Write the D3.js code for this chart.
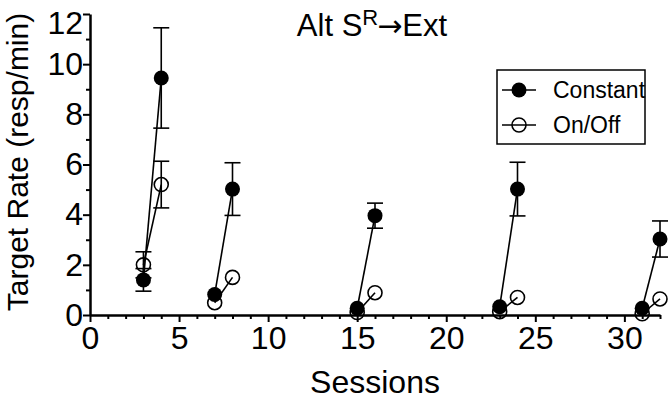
<!DOCTYPE html>
<html><head><meta charset="utf-8">
<script src="https://cdn.jsdelivr.net/npm/d3@7"></script>
<style>body{margin:0;background:#fff} text{font-family:Arial,"Liberation Sans",sans-serif;fill:#000}</style>
</head><body><svg id="c" width="669" height="401"></svg>
<script>
const sessions = [3,4,7,8,15,16,23,24,31,32];
const constantMean = [1.4,9.45,0.82,5.02,0.27,3.96,0.33,5.02,0.27,3.03];
const constantErr  = [0.45,2.0,0,1.05,0,0.5,0,1.07,0,0.72];
const onOffMean = [2.0,5.2,0.49,1.5,0.1,0.89,0.13,0.7,0.05,0.64];
const onOffErr  = [0.52,0.93,0,0,0,0,0,0,0,0];
const xTicks = d3.range(0,33);
const yTicks = d3.range(0,13);
const seriesNames = ["Constant","On/Off"];

const svg = d3.select("#c");
const x = d3.scaleLinear().domain([0,32]).range([90,660]);
const y = d3.scaleLinear().domain([0,12]).range([315,14]);

// axes
const xa = svg.append("g").attr("transform","translate(0,315)")
  .call(d3.axisBottom(x).tickValues(xTicks).tickSizeOuter(0)
    .tickFormat(d => d%5===0 ? d : ""));
xa.select(".domain").attr("stroke-width",2.5);
xa.selectAll(".tick line").attr("stroke-width",2).attr("y2", d => d%5===0 ? 7 : 4);
xa.selectAll(".tick text").attr("font-size",32).attr("dy","0.71em").attr("y",11);

const ya = svg.append("g").attr("transform","translate(90,0)")
  .call(d3.axisLeft(y).tickValues(yTicks).tickSizeOuter(0)
    .tickFormat(d => d%2===0 ? d : ""));
ya.select(".domain").attr("stroke-width",2.5);
ya.selectAll(".tick line").attr("stroke-width",2).attr("x2", d => d%2===0 ? -7 : -4);
ya.selectAll(".tick text").attr("font-size",32).attr("x",-7)
  .attr("dy", d => d===12 ? "0.62em" : "0.32em");
svg.selectAll(".tick text").style("font-family","Arial,'Liberation Sans',sans-serif");

// labels
svg.append("text").attr("x",375).attr("y",393).attr("text-anchor","middle")
  .attr("font-size",32).text("Sessions");
svg.append("text").attr("transform","translate(28,162) rotate(-90)")
  .attr("text-anchor","middle").attr("font-size",30).text("Target Rate (resp/min)");
const t = svg.append("text").attr("x",372).attr("y",36).attr("text-anchor","middle").attr("font-size",31);
t.append("tspan").text("Alt S");
t.append("tspan").attr("font-size",22).attr("dy",-11).text("R");
t.append("tspan").attr("dy",11).attr("font-family","'DejaVu Sans'").attr("font-size",30).attr("dx",-1).text("\u2192");
t.append("tspan").text("Ext");

const pairs = d3.range(0, sessions.length, 2);
function drawSeries(means, errs, filled){
  const g = svg.append("g");
  // error bars
  sessions.forEach((s,i)=>{
    if(!errs[i]) return;
    const cx = x(s), y1 = y(means[i]+errs[i]), y0 = y(Math.max(0,means[i]-errs[i]));
    g.append("line").attr("x1",cx).attr("x2",cx).attr("y1",y1).attr("y2",y0).attr("stroke","#000").attr("stroke-width",1.6);
    [y1,y0].forEach(yy=> g.append("line").attr("x1",cx-8).attr("x2",cx+8).attr("y1",yy).attr("y2",yy).attr("stroke","#000").attr("stroke-width",1.6));
  });
  pairs.forEach(i=>{
    g.append("line").attr("x1",x(sessions[i])).attr("y1",y(means[i]))
      .attr("x2",x(sessions[i+1])).attr("y2",y(means[i+1])).attr("stroke","#000").attr("stroke-width",1.6);
  });
  g.selectAll("circle").data(sessions).join("circle")
    .attr("cx",d=>x(d)).attr("cy",(d,i)=>y(means[i])).attr("r",filled?7.5:7)
    .attr("fill",filled?"#000":"none").attr("stroke","#000").attr("stroke-width",filled?0:1.6);
}
drawSeries(onOffMean,onOffErr,false);
drawSeries(constantMean,constantErr,true);

// legend
const lg = svg.append("g");
lg.append("rect").attr("x",497).attr("y",70).attr("width",148).attr("height",74)
  .attr("fill","#fff").attr("stroke","#000").attr("stroke-width",1.5);
seriesNames.forEach((n,i)=>{
  const cy = 90 + i*35;
  lg.append("line").attr("x1",502).attr("x2",536).attr("y1",cy).attr("y2",cy).attr("stroke","#000").attr("stroke-width",1.6);
  lg.append("circle").attr("cx",519).attr("cy",cy).attr("r",i===0?7.5:7)
    .attr("fill",i===0?"#000":"none").attr("stroke","#000").attr("stroke-width",i===0?0:1.6);
  lg.append("text").attr("x",553).attr("y",cy).attr("dy","0.36em").attr("font-size",23).text(n);
});
</script></body></html>
